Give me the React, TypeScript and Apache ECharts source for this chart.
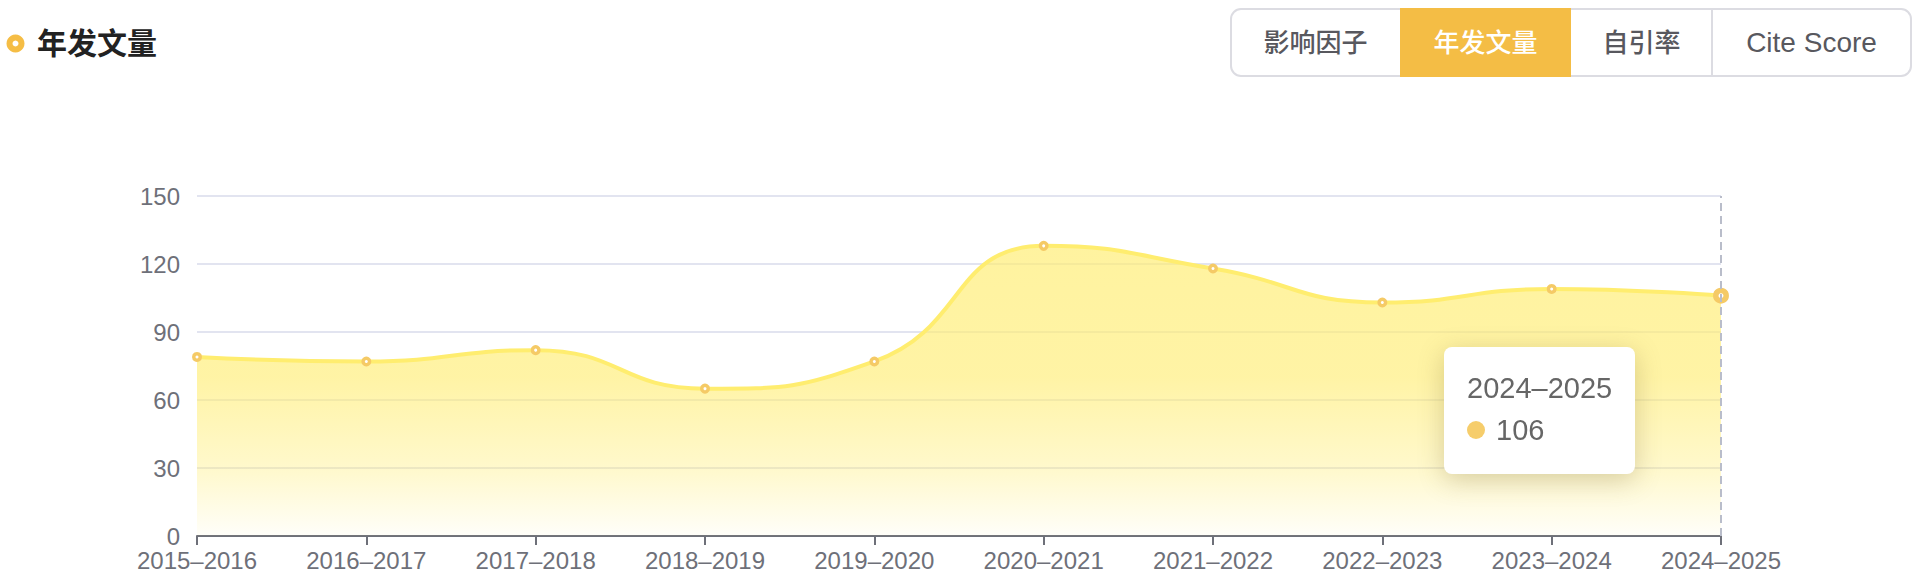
import React, { useEffect, useRef } from "react";
import * as echarts from "echarts";

const titleText = "年发文量";
const tabLabels = ["影响因子", "年发文量", "自引率", "Cite Score"];
const activeTab = 1;
const categories = [
  "2015–2016",
  "2016–2017",
  "2017–2018",
  "2018–2019",
  "2019–2020",
  "2020–2021",
  "2021–2022",
  "2022–2023",
  "2023–2024",
  "2024–2025",
];
const papers = [79, 77, 82, 65, 77, 128, 118, 103, 109, 106];
const yMin = 0;
const yMax = 150;
const yInterval = 30;
const tipIndex = 9;

const FONT = "'Liberation Sans', 'Noto Sans CJK SC', sans-serif";

export default function App() {
  const ref = useRef<HTMLDivElement>(null);

  useEffect(() => {
    document.body.style.margin = "0";
    if (!ref.current) return;
    const chart = echarts.init(ref.current, undefined, { renderer: "svg" });

    const segEdges = [1231, 1400, 1571, 1712, 1911];
    const tabTop = 9;
    const tabH = 67;
    const tabGraphics: any[] = [
      {
        type: "rect",
        shape: { x: segEdges[0], y: tabTop, width: segEdges[4] - segEdges[0], height: tabH, r: 10 },
        style: { fill: "#fff", stroke: "#dcdce2", lineWidth: 2 },
        z: 1,
      },
      {
        type: "rect",
        shape: {
          x: segEdges[activeTab],
          y: tabTop - 1,
          width: segEdges[activeTab + 1] - segEdges[activeTab],
          height: tabH + 2,
        },
        style: { fill: "#f4bd45" },
        z: 2,
      },
      {
        type: "line",
        shape: { x1: segEdges[3], y1: tabTop, x2: segEdges[3], y2: tabTop + tabH },
        style: { stroke: "#dcdce2", lineWidth: 2 },
        z: 2,
      },
    ];
    tabLabels.forEach((t, i) => {
      const latin = /^[A-Za-z ]+$/.test(t);
      tabGraphics.push({
        type: "text",
        x: (segEdges[i] + segEdges[i + 1]) / 2,
        y: tabTop + tabH / 2,
        z: 3,
        style: {
          text: t,
          fill: i === activeTab ? "#ffffff" : "#58585e",
          font: `500 ${latin ? 28 : 26}px ${FONT}`,
          align: "center",
          verticalAlign: "middle",
        },
      });
    });

    const option: any = {
      animation: false,
      backgroundColor: "#ffffff",
      textStyle: { fontFamily: FONT },
      graphic: [
        {
          type: "ring",
          shape: { cx: 15.5, cy: 43.5, r: 9, r0: 3 },
          style: { fill: "#f5bd45" },
        },
        {
          type: "text",
          x: 37,
          y: 43,
          style: {
            text: titleText,
            fill: "#222222",
            font: `bold 30px ${FONT}`,
            verticalAlign: "middle",
          },
        },
        ...tabGraphics,
      ],
      grid: { left: 197, right: 199, top: 196, bottom: 44, containLabel: false },
      tooltip: {
        trigger: "axis",
        alwaysShowContent: true,
        transitionDuration: 0,
        backgroundColor: "#ffffff",
        borderWidth: 0,
        padding: 0,
        extraCssText:
          "border-radius:8px;box-shadow:0 6px 26px rgba(110,95,40,0.28);",
        axisPointer: {
          type: "line",
          lineStyle: { color: "#b9bdca", width: 2, type: [8, 5] },
        },
        position: (point: number[], _p: any, _d: any, _r: any, size: any) => [
          point[0] - size.contentSize[0] - 86,
          point[1] + 51,
        ],
        formatter: (params: any) => {
          const p = Array.isArray(params) ? params[0] : params;
          return (
            `<div style="padding:20px 23px 23px 23px;font-family:${FONT.replace(/"/g, "")};color:#666;font-size:29px;line-height:42px;white-space:nowrap;">` +
            `<div>${p.axisValue}</div>` +
            `<div style="display:flex;align-items:center;"><span style="display:inline-block;width:18px;height:18px;border-radius:50%;background:#f6cd6b;margin-right:11px;"></span>${p.value}</div>` +
            `</div>`
          );
        },
      },
      xAxis: {
        type: "category",
        data: categories,
        boundaryGap: false,
        axisLine: { lineStyle: { color: "#6e7079", width: 2 } },
        axisTick: { alignWithLabel: true, length: 9, lineStyle: { color: "#6e7079", width: 2 } },
        axisLabel: { color: "#6e7079", fontSize: 24, margin: 12, fontFamily: FONT, interval: 0 },
        splitLine: { show: false },
      },
      yAxis: {
        type: "value",
        min: yMin,
        max: yMax,
        interval: yInterval,
        axisLine: { show: false },
        axisTick: { show: false },
        axisLabel: { color: "#6e7079", fontSize: 24, margin: 17, fontFamily: FONT },
        splitLine: { lineStyle: { color: "#e2e4f0", width: 2 } },
      },
      series: [
        {
          type: "line",
          data: papers,
          smooth: true,
          symbol: "circle",
          symbolSize: 6.5,
          showSymbol: true,
          showAllSymbol: true,
          lineStyle: { color: "#f7d865", width: 4 },
          itemStyle: { color: "#ffffff", borderColor: "#f5ca66", borderWidth: 3.5 },
          emphasis: {
            scale: 1.6,
            itemStyle: { color: "#ffffff", borderColor: "#f5ca66", borderWidth: 5.5 },
          },
          areaStyle: {
            opacity: 1,
            color: new echarts.graphic.LinearGradient(0, 0, 0, 1, [
              { offset: 0, color: "rgba(245,216,104,0.68)" },
              { offset: 0.45, color: "rgba(245,216,104,0.64)" },
              { offset: 0.77, color: "rgba(245,216,104,0.36)" },
              { offset: 1, color: "rgba(245,216,104,0.04)" },
            ]),
          },
        },
      ],
    };

    chart.setOption(option);
    chart.dispatchAction({ type: "showTip", seriesIndex: 0, dataIndex: tipIndex });
    const t = setTimeout(() => {
      chart.dispatchAction({ type: "showTip", seriesIndex: 0, dataIndex: tipIndex });
    }, 50);

    return () => {
      clearTimeout(t);
      chart.dispose();
    };
  }, []);

  return <div ref={ref} style={{ width: 1920, height: 580, background: "#fff" }} />;
}
